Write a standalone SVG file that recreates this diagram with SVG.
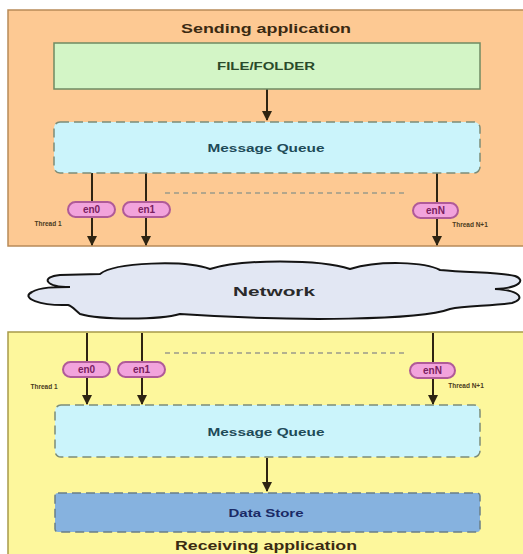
<svg xmlns="http://www.w3.org/2000/svg" width="523" height="554" viewBox="0 0 523 554">
<defs>
<marker id="ah" viewBox="0 0 10 10" refX="9" refY="5" markerWidth="5" markerHeight="5" orient="auto" markerUnits="strokeWidth">
<path d="M0,0 L10,5 L0,10 Z" fill="#2e2412"/>
</marker>
<style>
text{font-family:"Liberation Sans",Arial,sans-serif;font-weight:bold;text-anchor:middle;dominant-baseline:central}
.panelS{fill:#fdc993;stroke:#b88a58;stroke-width:1.5}
.panelR{fill:#fdf79c;stroke:#a89a4a;stroke-width:1.5}
.queue{fill:#cbf4fb;stroke:#7c8c78;stroke-width:1.5;stroke-dasharray:9,5}
.store{fill:#86b2df;stroke:#6a7f88;stroke-width:1.5;stroke-dasharray:9,5}
.file{fill:#d3f5c6;stroke:#6f8a63;stroke-width:1.5}
.pill{fill:#f2a3dc;stroke:#b05a98;stroke-width:2}
.pt{font-size:10px;fill:#7a2060}
.th{font-size:6.5px;fill:#4a3a20}
.line{stroke:#2e2412;stroke-width:2;fill:none}
.dash{stroke:#9a9a8a;stroke-width:1.5;stroke-dasharray:5,4;fill:none}
</style>
</defs>
<rect width="523" height="554" fill="#ffffff"/>

<g id="sending-app">
<rect class="panelS" x="8" y="10" width="525" height="236"/>
<text x="266" y="28" font-size="13" fill="#3a2a12" textLength="170" lengthAdjust="spacingAndGlyphs">Sending application</text>
</g>

<g id="receiving-app">
<rect class="panelR" x="8" y="332" width="525" height="230"/>
<text x="266" y="545" font-size="13" fill="#3a2a12" textLength="182" lengthAdjust="spacingAndGlyphs">Receiving application</text>
</g>

<g id="network">
<path d="M70,287 C45,287 40,277 60,275 L100,274 C115,262 185,260 210,269 C240,259 320,259 350,269 C380,260 425,262 440,270 C470,273 500,272 515,276 C526,280 520,288 495,289 C520,290 526,299 512,303 C490,306 465,306 450,309 C420,320 300,322 180,314 C160,320 100,320 80,314 C75,310 72,306 68,305 C40,306 20,298 32,292 C40,287 55,287 70,287 Z" fill="#e2e7f3" stroke="#141414" stroke-width="2"/>
<text x="274" y="291" font-size="13" fill="#2a2a2a" textLength="82" lengthAdjust="spacingAndGlyphs">Network</text>
</g>

<g id="connectors">
<line class="line" x1="267" y1="89" x2="267" y2="120" marker-end="url(#ah)"/>
<line class="line" x1="92" y1="173" x2="92" y2="245" marker-end="url(#ah)"/>
<line class="line" x1="146" y1="173" x2="146" y2="245" marker-end="url(#ah)"/>
<line class="line" x1="437" y1="173" x2="437" y2="245" marker-end="url(#ah)"/>
<line class="dash" x1="165" y1="193" x2="405" y2="193"/>
<line class="line" x1="87" y1="333" x2="87" y2="404" marker-end="url(#ah)"/>
<line class="line" x1="142" y1="333" x2="142" y2="404" marker-end="url(#ah)"/>
<line class="line" x1="433" y1="333" x2="433" y2="404" marker-end="url(#ah)"/>
<line class="dash" x1="165" y1="353" x2="405" y2="353"/>
<line class="line" x1="267" y1="458" x2="267" y2="491" marker-end="url(#ah)"/>
</g>

<g id="file-folder">
<rect class="file" x="54" y="43" width="426" height="46"/>
<text x="266" y="66" font-size="10" fill="#2a4a2a" textLength="98" lengthAdjust="spacingAndGlyphs">FILE/FOLDER</text>
</g>

<g id="send-queue">
<rect class="queue" x="54" y="122" width="426" height="51" rx="6"/>
<text x="266" y="148" font-size="10" fill="#1e4a58" textLength="117" lengthAdjust="spacingAndGlyphs">Message Queue</text>
</g>

<g id="send-en0">
<rect class="pill" x="68" y="202" width="47" height="15" rx="7.5"/>
<text class="pt" x="91.5" y="209.5">en0</text>
</g>
<g id="send-en1">
<rect class="pill" x="123" y="202" width="47" height="15" rx="7.5"/>
<text class="pt" x="146.5" y="209.5">en1</text>
</g>
<g id="send-enN">
<rect class="pill" x="413" y="203" width="45" height="15" rx="7.5"/>
<text class="pt" x="435.5" y="210.5">enN</text>
</g>
<text class="th" x="48" y="223">Thread 1</text>
<text class="th" x="470" y="224">Thread N+1</text>

<g id="recv-en0">
<rect class="pill" x="63" y="362" width="47" height="15" rx="7.5"/>
<text class="pt" x="86.5" y="369.5">en0</text>
</g>
<g id="recv-en1">
<rect class="pill" x="118" y="362" width="47" height="15" rx="7.5"/>
<text class="pt" x="141.5" y="369.5">en1</text>
</g>
<g id="recv-enN">
<rect class="pill" x="410" y="363" width="45" height="15" rx="7.5"/>
<text class="pt" x="432.5" y="370.5">enN</text>
</g>
<text class="th" x="44" y="386">Thread 1</text>
<text class="th" x="466" y="385">Thread N+1</text>

<g id="recv-queue">
<rect class="queue" x="55" y="405" width="425" height="52" rx="6"/>
<text x="266" y="432" font-size="10" fill="#1e4a58" textLength="117" lengthAdjust="spacingAndGlyphs">Message Queue</text>
</g>

<g id="data-store">
<rect class="store" x="55" y="493" width="425" height="39" rx="3"/>
<text x="266" y="513" font-size="10" fill="#1a2a66" textLength="75" lengthAdjust="spacingAndGlyphs">Data Store</text>
</g>
</svg>
